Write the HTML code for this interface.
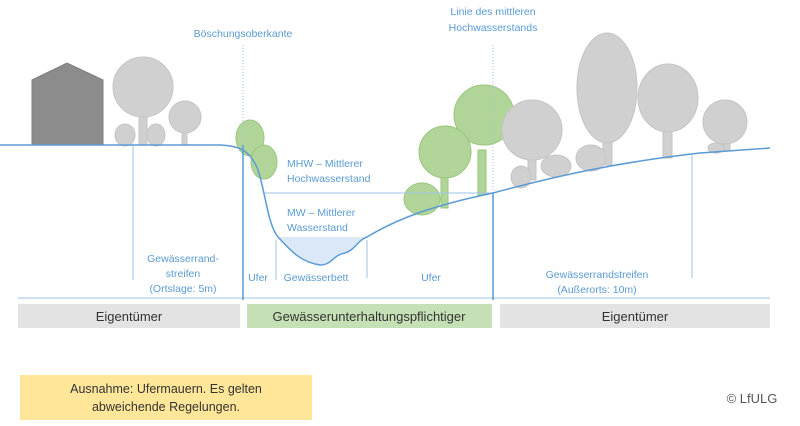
<!DOCTYPE html>
<html><head><meta charset="utf-8"><style>
body{margin:0;background:#fff}
svg{display:block}
text{font-family:"Liberation Sans",sans-serif}
</style></head><body>
<svg width="800" height="426" viewBox="0 0 800 426">
<g fill="#a9d18e" stroke="#8fc070" stroke-width="1" opacity="0.9">
<ellipse cx="250" cy="138" rx="14" ry="18"/>
<ellipse cx="264" cy="162" rx="13" ry="17"/>
<rect x="478" y="150" width="8" height="45"/>
<ellipse cx="484" cy="115" rx="30" ry="30"/>
<rect x="441" y="170" width="7" height="38"/>
<ellipse cx="445" cy="152" rx="26" ry="26"/>
<ellipse cx="422" cy="199" rx="18" ry="16"/>
</g>
<g fill="#d0d0d0" stroke="#c4c4c4" stroke-width="1">
<polygon points="32,80 67,63 103,80 103,145 32,145" fill="#8c8c8c" stroke="#7f7f7f"/>
<rect x="139" y="110" width="8" height="35"/>
<circle cx="143" cy="87" r="30"/>
<ellipse cx="125" cy="135" rx="10" ry="11"/>
<ellipse cx="156" cy="135" rx="9" ry="11"/>
<rect x="182" y="125" width="5" height="20"/>
<circle cx="185" cy="117" r="16"/>
<rect x="528" y="150" width="8" height="30"/>
<circle cx="532" cy="130" r="30"/>
<ellipse cx="521" cy="177" rx="10" ry="11"/>
<ellipse cx="556" cy="166" rx="15" ry="11"/>
<rect x="603" y="130" width="9" height="35"/>
<ellipse cx="607" cy="88" rx="30" ry="55"/>
<ellipse cx="591" cy="158" rx="15" ry="13"/>
<rect x="663" y="130" width="9" height="28"/>
<ellipse cx="668" cy="98" rx="30" ry="34"/>
<rect x="723" y="135" width="7" height="16"/>
<circle cx="725" cy="122" r="22"/>
<ellipse cx="716" cy="148" rx="8" ry="5"/>
</g>
<path d="M278,237 C290,250 300,262 320,265 C332,265 333,255 345,253 C355,250 358,240 367,237 Z" fill="#dae8f7" stroke="none"/>
<g stroke="#9dc3e6" stroke-width="1" fill="none">
<line x1="133" y1="145" x2="133" y2="280"/>
<line x1="243" y1="45" x2="243" y2="145" stroke-dasharray="1,2"/>
<line x1="493" y1="45" x2="493" y2="193" stroke-dasharray="1,2"/>
<line x1="265" y1="193" x2="493" y2="193"/>
<line x1="276" y1="240" x2="276" y2="280"/>
<line x1="367" y1="240" x2="367" y2="278"/>
<line x1="692" y1="155" x2="692" y2="278"/>
<line x1="18" y1="298" x2="770" y2="298"/>
</g>
<g stroke="#5b9bd5" stroke-width="1.5" fill="none">
<line x1="243" y1="145" x2="243" y2="300"/>
<line x1="493" y1="193" x2="493" y2="300"/>
<path d="M0,145 L220,145 C240,146 250,150 258,170 C266,195 268,225 278,237 C290,250 300,262 320,265 C332,265 333,255 345,253 C355,250 358,240 367,237 C395,220 430,206 493,193 C560,175 620,162 700,153 L770,148"/>
</g>
<rect x="18" y="304" width="222" height="24" fill="#e3e3e3"/>
<rect x="247" y="304" width="245" height="24" fill="#c5e0b4"/>
<rect x="500" y="304" width="270" height="24" fill="#e3e3e3"/>
<rect x="20" y="375" width="292" height="45" fill="#ffe699"/>
<g fill="#5b9bd5" font-size="10.5" text-anchor="middle">
<text x="243" y="37">Böschungsoberkante</text>
<text x="493" y="15">Linie des mittleren</text>
<text x="493" y="31">Hochwasserstands</text>
<text x="287" y="167" text-anchor="start">MHW – Mittlerer</text>
<text x="287" y="182" text-anchor="start">Hochwasserstand</text>
<text x="287" y="216" text-anchor="start">MW – Mittlerer</text>
<text x="287" y="231" text-anchor="start">Wasserstand</text>
<text x="183" y="262">Gewässerrand-</text>
<text x="183" y="277">streifen</text>
<text x="183" y="292">(Ortslage: 5m)</text>
<text x="258" y="281">Ufer</text>
<text x="316" y="281">Gewässerbett</text>
<text x="431" y="281">Ufer</text>
<text x="597" y="278">Gewässerrandstreifen</text>
<text x="597" y="293">(Außerorts: 10m)</text>
</g>
<g fill="#333" font-size="13" text-anchor="middle">
<text x="129" y="321">Eigentümer</text>
<text x="369" y="321">Gewässerunterhaltungspflichtiger</text>
<text x="635" y="321">Eigentümer</text>
<text x="166" y="393" font-size="12.5">Ausnahme: Ufermauern. Es gelten</text>
<text x="166" y="411" font-size="12.5">abweichende Regelungen.</text>
<text x="752" y="403" fill="#555">© LfULG</text>
</g>
</svg>
</body></html>
